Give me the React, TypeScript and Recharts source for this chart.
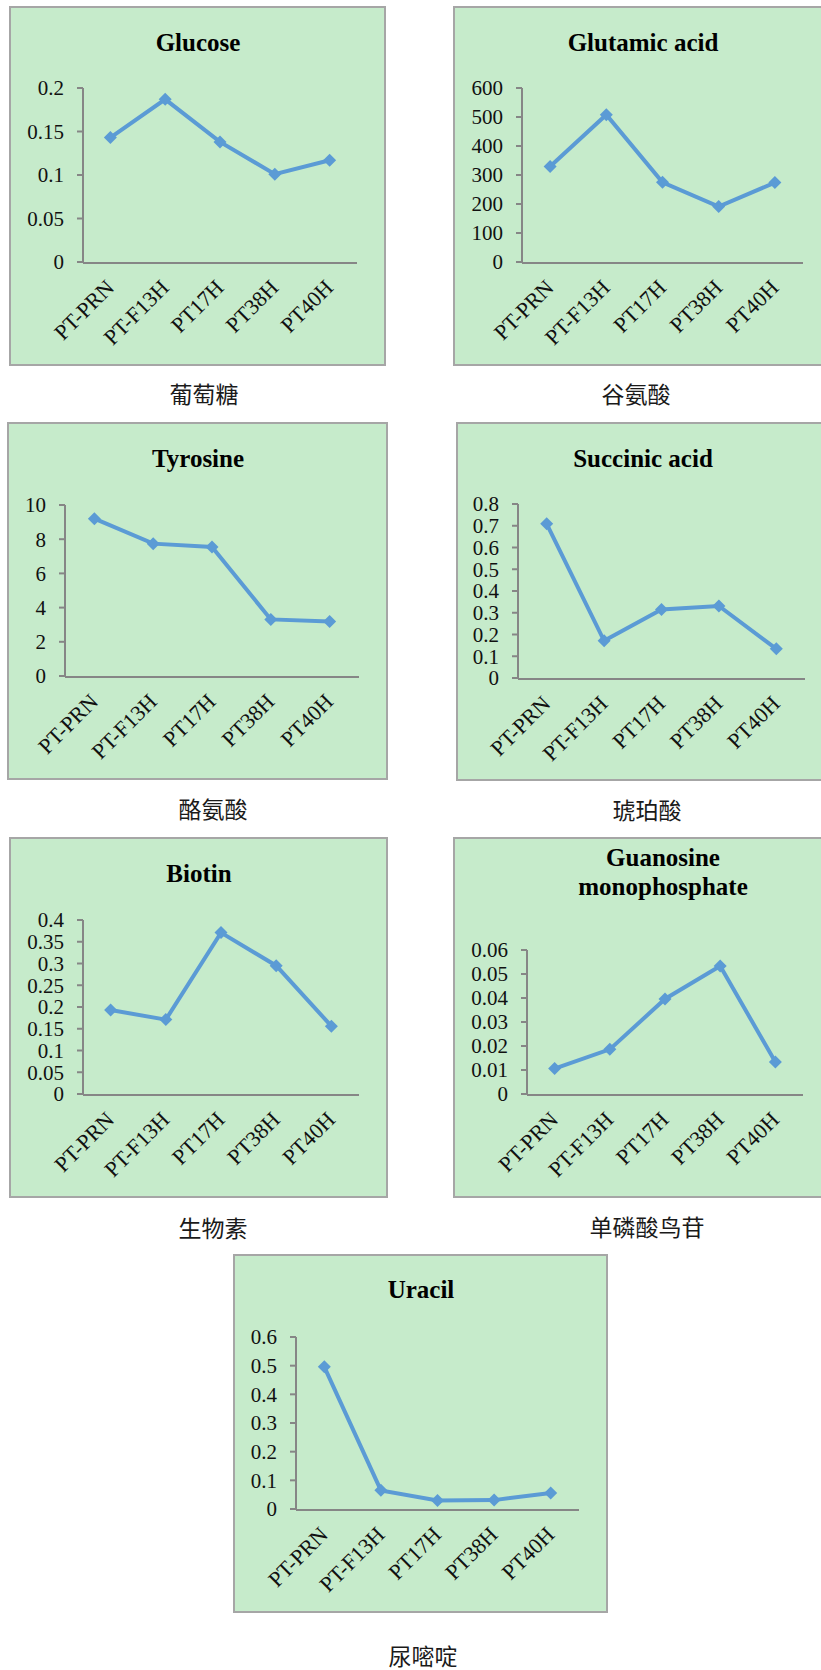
import { Line, LineChart, XAxis, YAxis } from "recharts";

const categories = ["PT-PRN", "PT-F13H", "PT17H", "PT38H", "PT40H"];

const glucose = [0.143, 0.187, 0.138, 0.101, 0.117];
const glutamicAcid = [329, 508, 275, 191, 274];
const tyrosine = [9.2, 7.74, 7.54, 3.31, 3.18];
const succinicAcid = [0.709, 0.171, 0.315, 0.331, 0.134];
const biotin = [0.193, 0.171, 0.371, 0.295, 0.156];
const guanosineMonophosphate = [0.0106, 0.0186, 0.0396, 0.0533, 0.0133];
const uracil = [0.496, 0.065, 0.03, 0.031, 0.056];

const glucoseTicks = [0, 0.05, 0.1, 0.15, 0.2];
const glutamicTicks = [0, 100, 200, 300, 400, 500, 600];
const tyrosineTicks = [0, 2, 4, 6, 8, 10];
const succinicTicks = [0, 0.1, 0.2, 0.3, 0.4, 0.5, 0.6, 0.7, 0.8];
const biotinTicks = [0, 0.05, 0.1, 0.15, 0.2, 0.25, 0.3, 0.35, 0.4];
const gmpTicks = [0, 0.01, 0.02, 0.03, 0.04, 0.05, 0.06];
const uracilTicks = [0, 0.1, 0.2, 0.3, 0.4, 0.5, 0.6];

const boundaryTicks = [0, 1, 2, 3, 4, 5];

const SERIF = '"Liberation Serif", "Times New Roman", serif';
const CJK = '"Noto Sans CJK SC", "Noto Sans", sans-serif';
const LINE = "#5B9BD5";
const AXIS = "#868686";
const Y_AXIS_W = 50;

function toRows(values: number[]) {
  return categories.map((name, i) => ({ name, x: i + 0.5, value: values[i] }));
}

function Diamond(props: any) {
  const { cx, cy } = props;
  if (cx == null || cy == null) return null;
  const r = 6.5;
  return <polygon points={`${cx},${cy - r} ${cx + r},${cy} ${cx},${cy + r} ${cx - r},${cy}`} fill={LINE} />;
}

// rotated label, anchored under the middle of each category band
function CategoryTick(props: any) {
  const { x, y, payload } = props;
  const ax = x + 5;
  const ay = y + 27;
  return (
    <text
      x={ax}
      y={ay}
      textAnchor="end"
      transform={`rotate(-45, ${ax}, ${ay})`}
      fontFamily={SERIF}
      fontSize={22}
      fill="#111"
    >
      {payload.value}
    </text>
  );
}

type PanelProps = {
  left: number;
  top: number;
  width: number;
  height: number;
  margin: { top: number; right: number; bottom: number; left: number };
  title: string[];
  titleX: number;
  titleY: number;
  caption: string;
  captionX: number;
  captionY: number;
  values: number[];
  ticks: number[];
};

function Panel(p: PanelProps) {
  const rows = toRows(p.values);
  const yMax = p.ticks[p.ticks.length - 1];
  const m = {
    top: p.margin.top,
    right: p.margin.right,
    bottom: p.margin.bottom - 2,
    left: p.margin.left - Y_AXIS_W,
  };
  return (
    <>
      <div
        style={{
          position: "absolute",
          left: p.left,
          top: p.top,
          width: p.width,
          height: p.height,
          background: "#C6EBCB",
          border: "2px solid #A6A6A6",
          boxSizing: "border-box",
        }}
      >
        <LineChart width={p.width - 4} height={p.height - 4} data={rows} margin={m}>
          <XAxis
            xAxisId="num"
            type="number"
            dataKey="x"
            domain={[0, 5]}
            ticks={boundaryTicks}
            tick={false}
            tickSize={5}
            height={1}
            axisLine={{ stroke: AXIS, strokeWidth: 2 }}
            tickLine={{ stroke: AXIS, strokeWidth: 2 }}
          />
          <XAxis
            xAxisId="cat"
            type="category"
            scale="band"
            dataKey="name"
            height={1}
            axisLine={false}
            tickLine={false}
            tickSize={0}
            tickMargin={0}
            interval={0}
            tick={<CategoryTick />}
          />
          <YAxis
            type="number"
            domain={[0, yMax]}
            ticks={p.ticks}
            interval={0}
            width={Y_AXIS_W}
            tickSize={6}
            tickMargin={13}
            axisLine={{ stroke: AXIS, strokeWidth: 2 }}
            tickLine={{ stroke: AXIS, strokeWidth: 2 }}
            tick={{ fill: "#111", fontSize: 21, fontFamily: SERIF }}
          />
          <Line
            xAxisId="num"
            type="linear"
            dataKey="value"
            stroke={LINE}
            strokeWidth={4}
            dot={<Diamond />}
            activeDot={false}
            isAnimationActive={false}
          />
        </LineChart>
      </div>
      <div
        style={{
          position: "absolute",
          left: p.titleX,
          top: p.titleY,
          transform: "translate(-50%, -50%)",
          fontFamily: SERIF,
          fontWeight: "bold",
          fontSize: 25,
          lineHeight: "29px",
          textAlign: "center",
          whiteSpace: "nowrap",
          color: "#000",
        }}
      >
        {p.title.map((t) => (
          <div key={t}>{t}</div>
        ))}
      </div>
      <div
        style={{
          position: "absolute",
          left: p.captionX,
          top: p.captionY,
          transform: "translate(-50%, -50%)",
          fontFamily: CJK,
          fontSize: 23,
          lineHeight: 1,
          whiteSpace: "nowrap",
          color: "#1a1a1a",
        }}
      >
        {p.caption}
      </div>
    </>
  );
}

export default function App() {
  return (
    <div
      style={{
        position: "absolute",
        left: 0,
        top: 0,
        width: 821,
        height: 1670,
        overflow: "hidden",
        background: "#fff",
      }}
    >
      <Panel
        left={9} top={6} width={377} height={360}
        margin={{ top: 80, right: 27, bottom: 102, left: 72 }}
        title={["Glucose"]} titleX={198} titleY={42}
        caption="葡萄糖" captionX={204} captionY={393}
        values={glucose} ticks={glucoseTicks}
      />
      <Panel
        left={453} top={6} width={380} height={360}
        margin={{ top: 80, right: 28, bottom: 102, left: 67 }}
        title={["Glutamic acid"]} titleX={643} titleY={42}
        caption="谷氨酸" captionX={636} captionY={393}
        values={glutamicAcid} ticks={glutamicTicks}
      />
      <Panel
        left={7} top={422} width={381} height={358}
        margin={{ top: 81, right: 27, bottom: 102, left: 56 }}
        title={["Tyrosine"]} titleX={198} titleY={458}
        caption="酪氨酸" captionX={213} captionY={808}
        values={tyrosine} ticks={tyrosineTicks}
      />
      <Panel
        left={456} top={422} width={380} height={359}
        margin={{ top: 80, right: 29, bottom: 101, left: 60 }}
        title={["Succinic acid"]} titleX={643} titleY={458}
        caption="琥珀酸" captionX={647} captionY={809}
        values={succinicAcid} ticks={succinicTicks}
      />
      <Panel
        left={9} top={837} width={379} height={361}
        margin={{ top: 81, right: 27, bottom: 102, left: 72 }}
        title={["Biotin"]} titleX={199} titleY={873}
        caption="生物素" captionX={213} captionY={1227}
        values={biotin} ticks={biotinTicks}
      />
      <Panel
        left={453} top={837} width={380} height={361}
        margin={{ top: 111, right: 28, bottom: 102, left: 72 }}
        title={["Guanosine", "monophosphate"]} titleX={663} titleY={872}
        caption="单磷酸鸟苷" captionX={647} captionY={1226}
        values={guanosineMonophosphate} ticks={gmpTicks}
      />
      <Panel
        left={233} top={1254} width={375} height={359}
        margin={{ top: 81, right: 27, bottom: 102, left: 61 }}
        title={["Uracil"]} titleX={421} titleY={1289}
        caption="尿嘧啶" captionX={423} captionY={1655}
        values={uracil} ticks={uracilTicks}
      />
    </div>
  );
}
